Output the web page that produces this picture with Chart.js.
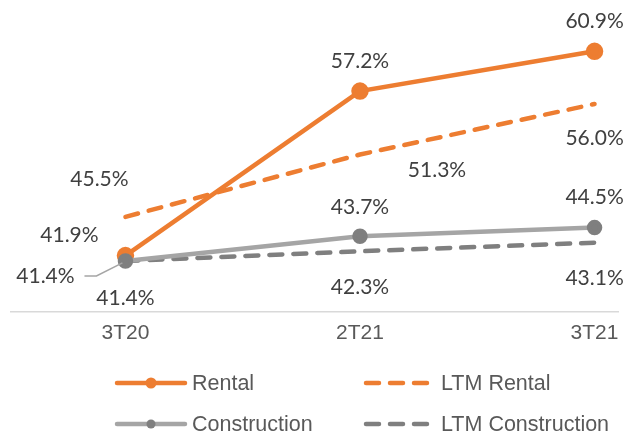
<!DOCTYPE html>
<html>
<head>
<meta charset="utf-8">
<script src="https://cdn.jsdelivr.net/npm/chart.js@4.4.1/dist/chart.umd.min.js"></script>
<style>
  html, body { margin: 0; padding: 0; background: #fff; }
  #wrap { width: 629px; height: 436px; }
</style>
</head>
<body>
<div id="wrap"><canvas id="my-chart" width="629" height="436"></canvas></div>
<script>
// data
var periods = ['3T20', '2T21', '3T21'];
var rental = [41.9, 57.2, 60.9];
var ltmRental = [45.5, 51.3, 56.0];
var construction = [41.4, 43.7, 44.5];
var ltmConstruction = [41.4, 42.3, 43.1];

// where each value label sits relative to its point (px)
var labelShift = [
  [[-56, -20], [0, -30], [0, -30]],
  [[-26, -38], [77, 16], [0, 34]],
  [[-80, 15], [0, -29], [0, -30]],
  [[0, 37], [0, 36], [0, 36]]
];

function pts(arr) {
  return arr.map(function (v, i) { return { x: i, y: v }; });
}

var orange = '#ED7D31';
var lightGray = '#A5A5A5';
var darkGray = '#7F7F7F';

// value labels with a leader line for the crowded one
var valueLabels = {
  id: 'valueLabels',
  afterDatasetsDraw: function (chart) {
    var ctx = chart.ctx;
    ctx.save();
    ctx.font = '21px Lato';
    ctx.fillStyle = '#404040';
    ctx.textAlign = 'center';
    ctx.textBaseline = 'middle';
    chart.data.datasets.forEach(function (ds, d) {
      chart.getDatasetMeta(d).data.forEach(function (p, i) {
        var s = labelShift[d][i];
        var tx = p.x + s[0], ty = p.y + s[1];
        ctx.fillText(ds.data[i].y.toFixed(1) + '%', tx, ty);
        if (d === 2 && i === 0) {
          ctx.strokeStyle = lightGray;
          ctx.lineWidth = 1.5;
          ctx.beginPath();
          ctx.moveTo(tx + 39, ty);
          ctx.lineTo(tx + 51, ty);
          ctx.lineTo(p.x - 3, p.y + 2);
          ctx.stroke();
        }
      });
    });
    ctx.restore();
  }
};

// two column legend like the excel one
var gridLegend = {
  id: 'gridLegend',
  afterDraw: function (chart) {
    var ctx = chart.ctx;
    var cols = [115, 364];
    var rows = [383, 424];
    ctx.save();
    chart.data.datasets.forEach(function (ds, d) {
      var x0 = cols[d % 2], y = rows[Math.floor(d / 2)];
      ctx.strokeStyle = ds.borderColor;
      ctx.lineWidth = ds.borderWidth;
      ctx.lineCap = 'round';
      ctx.setLineDash(ds.borderDash || []);
      ctx.beginPath();
      ctx.moveTo(x0 + 2, y);
      ctx.lineTo(x0 + 70, y);
      ctx.stroke();
      ctx.setLineDash([]);
      if (ds.pointRadius > 0) {
        ctx.fillStyle = ds.pointBackgroundColor;
        ctx.beginPath();
        ctx.arc(x0 + 36, y, ds.pointRadius - 1, 0, Math.PI * 2);
        ctx.fill();
      }
      ctx.fillStyle = '#595959';
      ctx.font = '21.5px "Liberation Sans"';
      ctx.textAlign = 'left';
      ctx.textBaseline = 'middle';
      ctx.fillText(ds.label, x0 + 77, y + 1);
    });
    ctx.restore();
  }
};

var ctx = document.getElementById('my-chart').getContext('2d');
var chart = new Chart(ctx, {
  type: 'line',
  data: {
    datasets: [{
      label: 'Rental',
      data: pts(rental),
      borderColor: orange,
      backgroundColor: orange,
      pointBackgroundColor: orange,
      pointBorderColor: orange,
      borderWidth: 4.5,
      pointRadius: 6.5,
      order: 4
    }, {
      label: 'LTM Rental',
      data: pts(ltmRental),
      borderColor: orange,
      backgroundColor: orange,
      borderWidth: 4.5,
      borderDash: [13, 11],
      borderCapStyle: 'round',
      pointRadius: 0,
      order: 3
    }, {
      label: 'Construction',
      data: pts(construction),
      borderColor: lightGray,
      backgroundColor: darkGray,
      pointBackgroundColor: darkGray,
      pointBorderColor: darkGray,
      borderWidth: 4.5,
      pointRadius: 5.5,
      order: 1
    }, {
      label: 'LTM Construction',
      data: pts(ltmConstruction),
      borderColor: darkGray,
      backgroundColor: darkGray,
      borderWidth: 4.5,
      borderDash: [13, 11],
      borderCapStyle: 'round',
      pointRadius: 0,
      order: 2
    }]
  },
  options: {
    responsive: false,
    animation: false,
    layout: { padding: { top: 6, left: 10, right: 4, bottom: 0 } },
    plugins: {
      legend: { display: false },
      tooltip: { enabled: false }
    },
    scales: {
      x: {
        type: 'linear',
        min: -0.488,
        max: 2.1,
        afterBuildTicks: function (s) {
          s.ticks = periods.map(function (p, i) { return { value: i }; });
        },
        afterFit: function (s) { s.height = 124; },
        grid: { display: false, drawTicks: false },
        border: { display: true, color: '#D9D9D9', width: 1.5 },
        ticks: {
          padding: 9,
          color: '#595959',
          font: { family: 'Liberation Sans', size: 21 },
          callback: function (v) { return periods[v]; }
        }
      },
      y: {
        display: false,
        min: 36.65,
        max: 64.65
      }
    }
  },
  plugins: [valueLabels, gridLegend]
});
</script>
</body>
</html>
